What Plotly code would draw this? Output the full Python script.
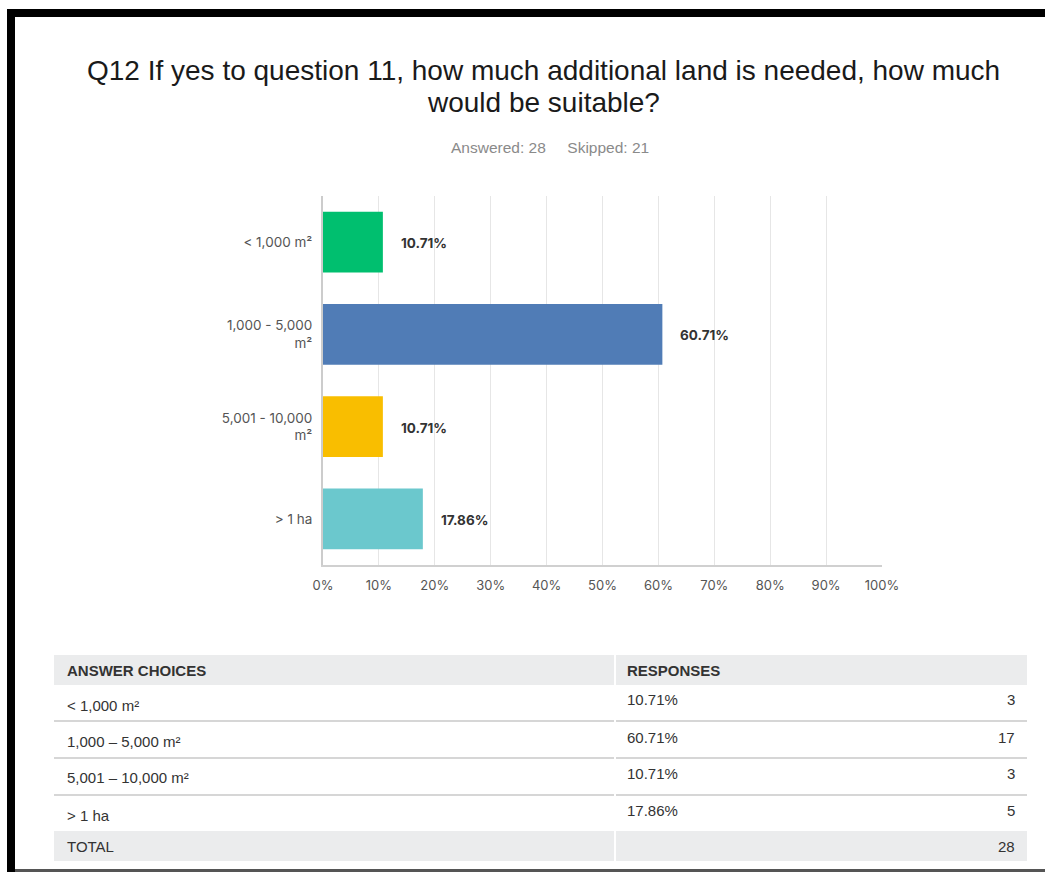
import plotly.graph_objects as go

W, H = 1045, 872

# Survey data
categories = ["< 1,000 m²", "1,000 - 5,000<br>m²", "5,001 - 10,000<br>m²", "> 1 ha"]
table_labels = ["< 1,000 m²", "1,000 – 5,000 m²", "5,001 – 10,000 m²", "> 1 ha"]
percentages = [10.71, 60.71, 10.71, 17.86]
counts = [3, 17, 3, 5]
total_answered = 28
total_skipped = 21
bar_colors = ["#00BF6F", "#507CB6", "#F9BE00", "#6BC8CD"]
x_ticks = list(range(0, 101, 10))
title_lines = [
    "Q12 If yes to question 11, how much additional land is needed, how much",
    "would be suitable?",
]


def px_x(x):
    return x / W


def px_y(y):
    return 1 - y / H


fig = go.Figure()
fig.add_trace(go.Bar(
    y=categories,
    x=percentages,
    orientation="h",
    marker=dict(color=bar_colors, line=dict(width=0)),
    width=0.66,
    hoverinfo="skip",
))

annotations = []
shapes = []

# Value labels to the right of each bar
for cat, v in zip(categories, percentages):
    annotations.append(dict(
        x=v, y=cat, xref="x", yref="y", xanchor="left", yanchor="middle",
        xshift=16, yshift=-1, text=f"<b>{v:.2f}%</b>", showarrow=False,
        font=dict(family="Inter, Roboto, sans-serif", size=13.5, color="#333333"),
    ))

# Title (two lines) and response summary
for line, ly in zip(title_lines, [70, 102]):
    annotations.append(dict(
        x=px_x(543), y=px_y(ly), xref="paper", yref="paper",
        xanchor="center", yanchor="middle", showarrow=False,
        text=line,
        font=dict(family="Liberation Sans, Arial, sans-serif", size=28, color="#1a1a1a"),
    ))
annotations.append(dict(
    x=px_x(550), y=px_y(147), xref="paper", yref="paper",
    xanchor="center", yanchor="middle", showarrow=False,
    text=f"Answered: {total_answered}\u00a0\u00a0\u00a0\u00a0\u00a0Skipped: {total_skipped}",
    font=dict(family="Liberation Sans, Arial, sans-serif", size=15.5, color="#8a8a8a"),
))

# Frame: black top and left bars, grey bottom rule
shapes.append(dict(type="rect", xref="paper", yref="paper", x0=px_x(7), x1=1, y0=px_y(17), y1=px_y(9),
                   fillcolor="black", line=dict(width=0)))
shapes.append(dict(type="rect", xref="paper", yref="paper", x0=px_x(7), x1=px_x(15), y0=0, y1=px_y(9),
                   fillcolor="black", line=dict(width=0)))
shapes.append(dict(type="rect", xref="paper", yref="paper", x0=px_x(15), x1=1, y0=0, y1=px_y(869),
                   fillcolor="#555555", line=dict(width=0)))

# Summary table
tbl_left, tbl_mid, tbl_right = 54, 615, 1027
gray = "#EBECED"
for (a, b) in [(tbl_left, tbl_mid - 1), (tbl_mid + 1, tbl_right)]:
    shapes.append(dict(type="rect", xref="paper", yref="paper", x0=px_x(a), x1=px_x(b),
                       y0=px_y(685), y1=px_y(655), fillcolor=gray, line=dict(width=0)))
    shapes.append(dict(type="rect", xref="paper", yref="paper", x0=px_x(a), x1=px_x(b),
                       y0=px_y(861), y1=px_y(831), fillcolor=gray, line=dict(width=0)))
    for ly in [721, 758, 795]:
        shapes.append(dict(type="rect", xref="paper", yref="paper", x0=px_x(a), x1=px_x(b),
                           y0=px_y(ly + 1), y1=px_y(ly - 1), fillcolor="#D6D6D6", line=dict(width=0)))

tfont = dict(family="Liberation Sans, Arial, sans-serif", size=15, color="#333333")


def cell(x, y, text, anchor="left", bold=False):
    annotations.append(dict(
        x=px_x(x), y=px_y(y), xref="paper", yref="paper", xanchor=anchor, yanchor="middle",
        showarrow=False, text=f"<b>{text}</b>" if bold else text, font=tfont,
    ))


cell(65, 670, "ANSWER CHOICES", bold=True)
cell(625, 670, "RESPONSES", bold=True)
label_ys = [705, 741, 777, 815]
value_ys = [699, 737, 773, 810]
for lab, p, c, ly, vy in zip(table_labels, percentages, counts, label_ys, value_ys):
    cell(65, ly, lab)
    cell(625, vy, f"{p:.2f}%")
    cell(1017, vy, str(c), anchor="right")
cell(65, 846, "TOTAL")
cell(1017, 846, str(sum(counts)), anchor="right")

tick_font = dict(family="Inter, Roboto, sans-serif", size=13.5, color="#555555")

fig.update_layout(
    width=W, height=H,
    margin=dict(l=0, r=0, t=0, b=0, autoexpand=False),
    paper_bgcolor="white", plot_bgcolor="white",
    showlegend=False,
    annotations=annotations,
    shapes=shapes,
    xaxis=dict(
        domain=[px_x(323), px_x(882)],
        range=[0, 100],
        tickvals=x_ticks,
        ticktext=[f"{t}%" for t in x_ticks],
        showgrid=True, gridcolor="#E6E6E6", gridwidth=1,
        zeroline=False,
        showline=True, linecolor="#D0D0D0", linewidth=2,
        ticks="", ticklabelstandoff=7,
        tickfont=dict(family="Inter, Roboto, sans-serif", size=13, color="#555555"),
        automargin=False,
        fixedrange=True,
    ),
    yaxis=dict(
        domain=[px_y(565), px_y(196)],
        categoryorder="array", categoryarray=categories,
        autorange="reversed",
        showgrid=False, zeroline=False,
        showline=True, linecolor="#CCCCCC", linewidth=2,
        ticks="", ticklabelstandoff=6,
        tickfont=tick_font,
        automargin=False,
        fixedrange=True,
    ),
)

fig.write_html("out.html", config={"displayModeBar": False})
